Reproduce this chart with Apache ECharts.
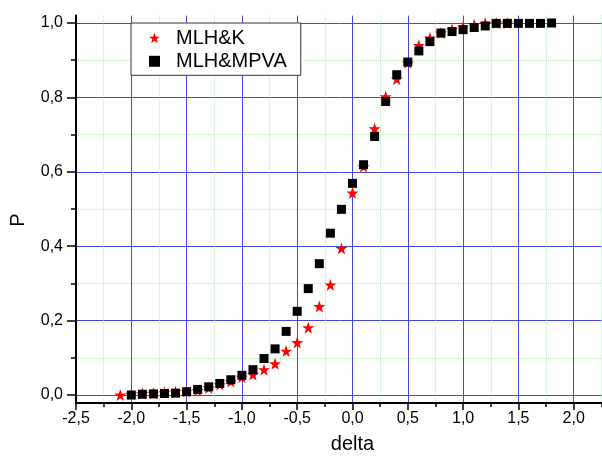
<!DOCTYPE html>
<html>
<head>
<meta charset="utf-8">
<script src="https://cdn.jsdelivr.net/npm/echarts@6/dist/echarts.min.js"></script>
<style>html,body{margin:0;padding:0;background:#fff}#chart{width:602px;height:461px}</style>
</head>
<body>
<div id="chart"></div>
<script>
// ---- data ----
var starX = [-2.1,-2.0,-1.9,-1.8,-1.7,-1.6,-1.5,-1.4,-1.3,-1.2,-1.1,-1.0,-0.9,-0.8,-0.7,-0.6,-0.5,-0.4,-0.3,-0.2,-0.1,0.0,0.1,0.2,0.3,0.4,0.5,0.6,0.7,0.8,0.9,1.0,1.1,1.2,1.3,1.4];
var starY = [0.000,0.002,0.004,0.005,0.007,0.009,0.009,0.012,0.019,0.028,0.036,0.048,0.055,0.068,0.084,0.118,0.141,0.181,0.238,0.296,0.394,0.543,0.614,0.716,0.802,0.849,0.893,0.940,0.960,0.973,0.983,0.989,0.995,0.999,1.000,1.000];
var sqX = [-2.0,-1.9,-1.8,-1.7,-1.6,-1.5,-1.4,-1.3,-1.2,-1.1,-1.0,-0.9,-0.8,-0.7,-0.6,-0.5,-0.4,-0.3,-0.2,-0.1,0.0,0.1,0.2,0.3,0.4,0.5,0.6,0.7,0.8,0.9,1.0,1.1,1.2,1.3,1.4,1.5,1.6,1.7,1.8];
var sqY = [0.000,0.002,0.003,0.004,0.005,0.009,0.015,0.022,0.031,0.041,0.053,0.068,0.098,0.124,0.171,0.225,0.286,0.353,0.435,0.499,0.569,0.619,0.695,0.789,0.861,0.895,0.925,0.950,0.973,0.977,0.982,0.988,0.992,0.999,0.999,0.999,0.999,0.999,1.000];
var seriesNames = ['MLH&K', 'MLH&MPVA'];
var xTitle = 'delta';
var yTitle = 'P';

function pairs(xs, ys){ return xs.map(function(x,i){ return [x, ys[i]]; }); }
function fmt(v){ return v.toFixed(1).replace('.', ','); }

var FONT = 'Liberation Sans, Arial, sans-serif';
var STAR = 'path://M50,0 L61.8,34.5 L97.6,34.5 L68.5,55.9 L79.4,90.5 L50,69.1 L20.6,90.5 L31.5,55.9 L2.4,34.5 L38.2,34.5 Z';
var BLUE = '#4646dc';
var GREEN = '#bfe6bf';

var chart = echarts.init(document.getElementById('chart'), null, {renderer: 'canvas'});
chart.setOption({
  animation: false,
  backgroundColor: '#ffffff',
  textStyle: {fontFamily: FONT},
  grid: [
    {left: 76, right: -27, top: 15.6, bottom: 58, outerBoundsMode: 'none', containLabel: false},
    {left: 76, right: -27, top: 23, bottom: 66, outerBoundsMode: 'none', containLabel: false}
  ],
  xAxis: [
    {
      gridIndex: 0, type: 'value', min: -2.5, max: 2.5, interval: 0.5,
      name: xTitle, nameLocation: 'middle', nameGap: 31,
      nameTextStyle: {fontSize: 20, color: '#000', fontFamily: FONT},
      axisLine: {show: true, onZero: false, lineStyle: {color: '#000', width: 2}},
      axisTick: {show: true, inside: false, length: 7, lineStyle: {color: '#000', width: 1.5}},
      minorTick: {show: true, splitNumber: 2, length: 4, lineStyle: {color: '#000', width: 1.5}},
      axisLabel: {margin: 8, fontSize: 16, color: '#000', fontFamily: FONT, formatter: fmt},
      splitLine: {show: true, lineStyle: {color: BLUE, width: 1}},
      minorSplitLine: {show: true, lineStyle: {color: GREEN, width: 1, type: 'dotted'}}
    },
    {
      gridIndex: 1, type: 'value', min: -2.5, max: 2.5, interval: 0.5, show: false,
      axisLine: {onZero: false}
    }
  ],
  yAxis: [
    {
      gridIndex: 0, type: 'value', min: -0.02, max: 1.02,
      axisLine: {show: true, onZero: false, lineStyle: {color: '#000', width: 2}},
      axisTick: {show: false}, axisLabel: {show: false}, splitLine: {show: false}
    },
    {
      gridIndex: 1, type: 'value', min: 0, max: 1, interval: 0.2,
      axisLine: {show: false, onZero: false},
      axisTick: {show: true, inside: false, length: 9, lineStyle: {color: '#000', width: 1.5}},
      minorTick: {show: true, splitNumber: 2, length: 5, lineStyle: {color: '#000', width: 1.5}},
      axisLabel: {margin: 13, fontSize: 16, color: '#000', fontFamily: FONT, formatter: fmt},
      splitLine: {show: true, lineStyle: {color: BLUE, width: 1}},
      minorSplitLine: {show: true, lineStyle: {color: GREEN, width: 1, type: 'dotted'}}
    }
  ],
  legend: {
    orient: 'vertical', left: 131, top: 23,
    backgroundColor: '#fff', borderColor: '#333', borderWidth: 1,
    padding: [5, 14, 4, 18], itemGap: 3.3,
    itemWidth: 11, itemHeight: 11,
    textStyle: {fontSize: 20, color: '#000', fontFamily: FONT, lineHeight: 20, padding: [0, 0, 0, 11]},
    data: [{name: seriesNames[0], icon: STAR}, {name: seriesNames[1], icon: 'rect'}]
  },
  graphic: [{
    type: 'text', x: 18, y: 220, rotation: Math.PI / 2,
    style: {text: yTitle, fontSize: 20, fill: '#000', fontFamily: FONT, align: 'center', verticalAlign: 'middle'}
  }],
  series: [
    {
      name: seriesNames[0], type: 'scatter', xAxisIndex: 1, yAxisIndex: 1,
      symbol: STAR, symbolSize: 12, itemStyle: {color: '#ff0000', opacity: 1},
      data: pairs(starX, starY)
    },
    {
      name: seriesNames[1], type: 'scatter', xAxisIndex: 1, yAxisIndex: 1,
      symbol: 'rect', symbolSize: 9, itemStyle: {color: '#000000', opacity: 1},
      data: pairs(sqX, sqY)
    }
  ]
});
</script>
</body>
</html>
